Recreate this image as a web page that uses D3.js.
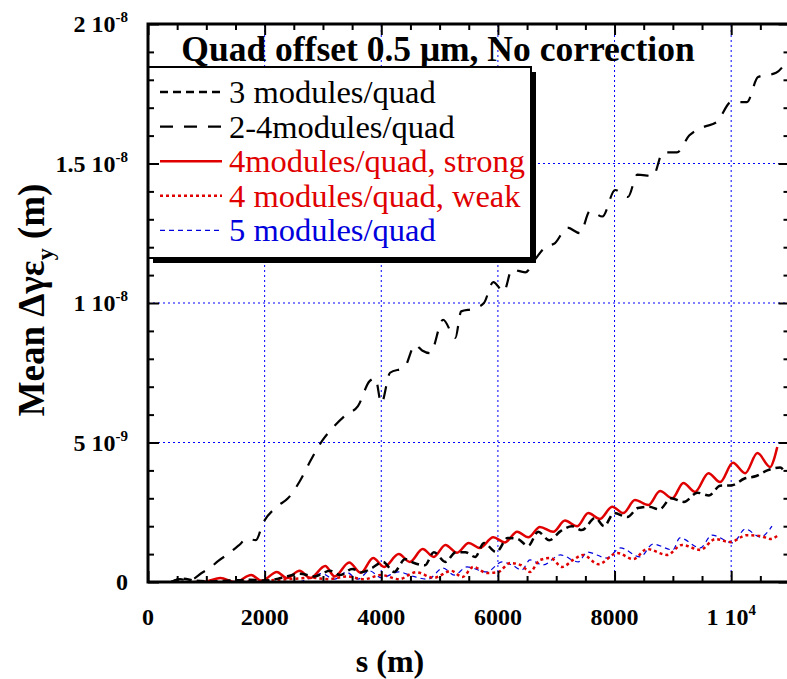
<!DOCTYPE html>
<html>
<head>
<meta charset="UTF-8">
<script src="https://d3js.org/d3.v7.min.js"></script>
<style>
  body { margin: 0; background: #fff; }
  svg { font-family: "Liberation Serif", "Times New Roman", serif; }
</style>
</head>
<body>
<svg width="787" height="679"></svg>
<script>
// values in units of 1e-9 m, s in m
const s24 = [400, 550, 700, 940, 1060, 1200, 1370, 1550, 1700, 1850, 1970, 2210, 2400, 2600, 2800, 3000, 3200, 3400, 3600, 3800, 3900, 4000, 4150, 4400, 4580, 4700, 4840, 5060, 5270, 5370, 5590, 5760, 5920, 6100, 6240, 6470, 6650, 6810, 6980, 7190, 7410, 7580, 7790, 8010, 8230, 8390, 8660, 8830, 9070, 9280, 9520, 9760, 10000, 10270, 10460, 10770, 10930];
const v24 = [0, 0.1, 0.05, 0.35, 0.5, 0.75, 1.0, 1.3, 1.55, 1.5, 2.1, 2.7, 3.0, 3.6, 4.4, 5.1, 5.6, 6.0, 6.3, 7.2, 7.3, 6.4, 7.5, 7.7, 8.5, 8.3, 8.2, 9.4, 8.75, 9.7, 9.8, 10.0, 10.75, 10.4, 11.2, 11.1, 11.6, 12.0, 12.15, 12.7, 12.5, 13.3, 13.1, 14.05, 13.8, 14.6, 14.55, 15.4, 15.4, 16.0, 16.3, 16.5, 17.2, 17.2, 18.1, 18.25, 18.6];

const s3 = [400, 600, 800, 1100, 1400, 1730, 2000, 2300, 2600, 2850, 3120, 3300, 3500, 3670, 3840, 4030, 4220, 4410, 4540, 4750, 4900, 5100, 5280, 5440, 5610, 5760, 5970, 6170, 6330, 6520, 6690, 6880, 7080, 7270, 7440, 7670, 7820, 7990, 8220, 8400, 8590, 8770, 8970, 9190, 9420, 9620, 9810, 10020, 10220, 10430, 10620, 10840, 10930];
const v3 = [0, 0.12, 0.05, 0.02, 0.05, 0.08, 0.05, 0.15, 0.3, 0.2, 0.4, 0.25, 0.47, 0.35, 0.5, 0.72, 0.36, 0.82, 0.7, 0.6, 1.07, 0.72, 1.07, 1.07, 0.9, 1.4, 1.07, 1.58, 1.55, 1.3, 1.8, 1.5, 1.83, 2.0, 1.86, 2.3, 2.0, 2.47, 2.33, 2.65, 2.7, 2.6, 3.0, 2.87, 3.2, 3.1, 3.45, 3.47, 3.7, 3.8, 4.0, 4.1, 3.9];

const sStrong = [800, 1000, 1240, 1500, 1770, 1950, 2210, 2380, 2600, 2780, 3040, 3200, 3450, 3650, 3860, 4050, 4300, 4490, 4710, 4900, 5100, 5300, 5500, 5690, 5920, 6120, 6330, 6520, 6720, 6950, 7150, 7360, 7550, 7750, 7960, 8150, 8350, 8580, 8780, 8990, 9180, 9380, 9610, 9810, 10030, 10240, 10450, 10670, 10740, 10790];
const vStrong = [0, 0.02, 0.14, 0, 0.25, 0.04, 0.36, 0.14, 0.4, 0.14, 0.57, 0.2, 0.7, 0.33, 0.86, 0.54, 1.0, 0.72, 1.18, 0.9, 1.33, 1.05, 1.4, 1.22, 1.6, 1.42, 1.8, 1.6, 1.97, 1.8, 2.2, 2.0, 2.47, 2.26, 2.7, 2.47, 2.94, 2.76, 3.26, 3.0, 3.55, 3.23, 3.9, 3.58, 4.27, 3.9, 4.62, 4.12, 4.44, 4.84];

const sWeak = [1500, 2000, 2400, 2800, 3100, 3400, 3700, 4000, 4300, 4600, 4900, 5200, 5390, 5580, 5810, 6000, 6210, 6400, 6550, 6720, 6900, 7100, 7290, 7460, 7720, 8050, 8320, 8560, 8900, 9160, 9470, 9730, 9980, 10270, 10500, 10670, 10790];
const vWeak = [0, 0.05, 0.1, 0.15, 0.1, 0.2, 0.1, 0.25, 0.1, 0.35, 0.15, 0.4, 0.18, 0.54, 0.32, 0.35, 0.68, 0.6, 0.36, 0.79, 0.86, 0.54, 0.79, 0.97, 0.64, 1.04, 0.82, 1.18, 0.97, 1.33, 1.15, 1.54, 1.43, 1.68, 1.65, 1.54, 1.65];

const s5 = [2600, 2800, 2980, 3200, 3400, 3600, 3800, 4000, 4300, 4550, 4800, 5060, 5250, 5470, 5810, 6070, 6250, 6410, 6550, 6770, 7070, 7380, 7530, 7870, 8100, 8440, 8660, 9000, 9120, 9470, 9670, 10030, 10240, 10500, 10700];
const v5 = [0, 0.15, 0.3, 0.1, 0.35, 0.1, 0.4, 0.15, 0.36, 0.2, 0.1, 0.5, 0.25, 0.54, 0.36, 0.72, 0.6, 0.43, 0.79, 0.61, 0.97, 0.72, 1.07, 0.86, 1.22, 0.9, 1.36, 1.15, 1.58, 1.22, 1.68, 1.4, 1.9, 1.61, 2.0];

const seriesNames = ["3 modules/quad", "2-4modules/quad", "4modules/quad, strong", "4 modules/quad, weak", "5 modules/quad"];

const xTicks = [0, 2000, 4000, 6000, 8000, 10000];
const xTickBase = ["0", "2000", "4000", "6000", "8000", "1 10"];
const xTickExp = ["", "", "", "", "", "4"];
const yTicks = [0, 5, 10, 15, 20];
const yTickBase = ["0", "5 10", "1 10", "1.5 10", "2 10"];
const yTickExp = ["", "-9", "-8", "-8", "-8"];

const series = [
  {name: seriesNames[0], s: s3, v: v3, color: "#000", width: 2.5, dash: "8,5", text: "#000"},
  {name: seriesNames[1], s: s24, v: v24, color: "#000", width: 2.2, dash: "13,11", text: "#000"},
  {name: seriesNames[2], s: sStrong, v: vStrong, color: "#e00000", width: 2.5, dash: null, text: "#e00000"},
  {name: seriesNames[3], s: sWeak, v: vWeak, color: "#e00000", width: 2.5, dash: "3,3", text: "#e00000"},
  {name: seriesNames[4], s: s5, v: v5, color: "#0000dd", width: 1.2, dash: "5,4", text: "#0000dd"}
];

const svg = d3.select("svg");
const pL = 148, pT = 24, pR = 789.5, pB = 582;

const x = d3.scaleLinear().domain([0, 11000]).range([pL, pR]);
const y = d3.scaleLinear().domain([0, 20]).range([pB, pT]);

// grid
const grid = svg.append("g").attr("stroke", "#0000ff").attr("stroke-width", 1).attr("stroke-dasharray", "2,3");
xTicks.slice(1).forEach(t => {
  grid.append("line").attr("x1", x(t)).attr("x2", x(t)).attr("y1", pB).attr("y2", pT);
});
yTicks.slice(1, 4).forEach(t => {
  grid.append("line").attr("x1", pL).attr("x2", pR).attr("y1", y(t)).attr("y2", y(t));
});

// curves
svg.append("clipPath").attr("id", "clip")
  .append("rect").attr("x", pL).attr("y", pT).attr("width", pR - pL).attr("height", pB - pT);

const plot = svg.append("g").attr("clip-path", "url(#clip)");
const lineGen = d3.line().x(d => x(d[0])).y(d => y(d[1])).curve(d3.curveMonotoneX);
series.slice().reverse().forEach(sr => {
  const pts = sr.s.map((s, i) => [s, sr.v[i]]);
  plot.append("path")
    .datum(pts)
    .attr("fill", "none")
    .attr("stroke", sr.color)
    .attr("stroke-width", sr.width)
    .attr("stroke-dasharray", sr.dash)
    .attr("stroke-linejoin", "round")
    .attr("d", lineGen);
});

// title
svg.append("text")
  .attr("x", 438).attr("y", 61)
  .attr("text-anchor", "middle")
  .attr("font-weight", "bold")
  .attr("font-size", 35.5)
  .text("Quad offset 0.5 \u03bcm, No correction");

// legend
const lg = svg.append("g");
lg.append("rect").attr("x", 153).attr("y", 72).attr("width", 383).attr("height", 191).attr("fill", "#000");
lg.append("rect").attr("x", 148).attr("y", 67).attr("width", 383).attr("height", 191)
  .attr("fill", "#fff").attr("stroke", "#000").attr("stroke-width", 2);
series.forEach((sr, i) => {
  const by = 103 + i * 34.6;
  lg.append("line")
    .attr("x1", 160).attr("x2", 222).attr("y1", by - 11).attr("y2", by - 11)
    .attr("stroke", sr.color).attr("stroke-width", sr.width)
    .attr("stroke-dasharray", sr.dash);
  lg.append("text")
    .attr("x", 229).attr("y", by)
    .attr("font-size", 32.5)
    .attr("fill", sr.text)
    .text(sr.name);
});

// axes (inward ticks)
const axG = svg.append("g");
const tickStyle = g => g.call(a => a.select(".domain").remove())
  .call(a => a.selectAll("line").attr("stroke", "#000").attr("stroke-width", 2));

const xMinor = d3.range(0, 11001, 500).filter(t => t % 2000 !== 0);
const yMinor = d3.range(0, 21, 1).filter(t => t % 5 !== 0);

axG.append("g").attr("transform", `translate(0,${pB})`)
  .call(d3.axisBottom(x).tickValues(xTicks).tickSize(-11).tickFormat("")).call(tickStyle);
axG.append("g").attr("transform", `translate(0,${pB})`)
  .call(d3.axisBottom(x).tickValues(xMinor).tickSize(-6).tickFormat("")).call(tickStyle);
axG.append("g").attr("transform", `translate(0,${pT})`)
  .call(d3.axisTop(x).tickValues(xTicks).tickSize(-11).tickFormat("")).call(tickStyle);
axG.append("g").attr("transform", `translate(0,${pT})`)
  .call(d3.axisTop(x).tickValues(xMinor).tickSize(-6).tickFormat("")).call(tickStyle);
axG.append("g").attr("transform", `translate(${pL},0)`)
  .call(d3.axisLeft(y).tickValues(yTicks).tickSize(-11).tickFormat("")).call(tickStyle);
axG.append("g").attr("transform", `translate(${pL},0)`)
  .call(d3.axisLeft(y).tickValues(yMinor).tickSize(-6).tickFormat("")).call(tickStyle);
axG.append("g").attr("transform", `translate(${pR},0)`)
  .call(d3.axisRight(y).tickValues(yTicks).tickSize(-11).tickFormat("")).call(tickStyle);
axG.append("g").attr("transform", `translate(${pR},0)`)
  .call(d3.axisRight(y).tickValues(yMinor).tickSize(-6).tickFormat("")).call(tickStyle);

axG.append("rect").attr("x", pL).attr("y", pT).attr("width", pR - pL).attr("height", pB - pT)
  .attr("fill", "none").attr("stroke", "#000").attr("stroke-width", 3);

// tick labels
xTicks.forEach((t, i) => {
  const tx = svg.append("text").attr("x", x(t)).attr("y", 625)
    .attr("text-anchor", "middle").attr("font-weight", "bold").attr("font-size", 24);
  tx.append("tspan").text(xTickBase[i]);
  if (xTickExp[i]) tx.append("tspan").attr("dy", -10).attr("font-size", 15).text(xTickExp[i]);
});
yTicks.forEach((t, i) => {
  const ty = svg.append("text").attr("x", 128).attr("y", y(t) + 8)
    .attr("text-anchor", "end").attr("font-weight", "bold").attr("font-size", 24);
  ty.append("tspan").text(yTickBase[i]);
  if (yTickExp[i]) ty.append("tspan").attr("dy", -10).attr("font-size", 15).text(yTickExp[i]);
});

// axis titles
svg.append("text").attr("x", 390).attr("y", 672)
  .attr("text-anchor", "middle").attr("font-weight", "bold").attr("font-size", 32)
  .text("s (m)");

const yt = svg.append("text")
  .attr("transform", "translate(44,300) rotate(-90)")
  .attr("text-anchor", "middle").attr("font-weight", "bold").attr("font-size", 37);
yt.append("tspan").text("Mean \u0394\u03b3\u03b5");
yt.append("tspan").attr("dy", 9).attr("font-size", 24).text("y");
yt.append("tspan").attr("dy", -9).text(" (m)");
</script>
</body>
</html>
